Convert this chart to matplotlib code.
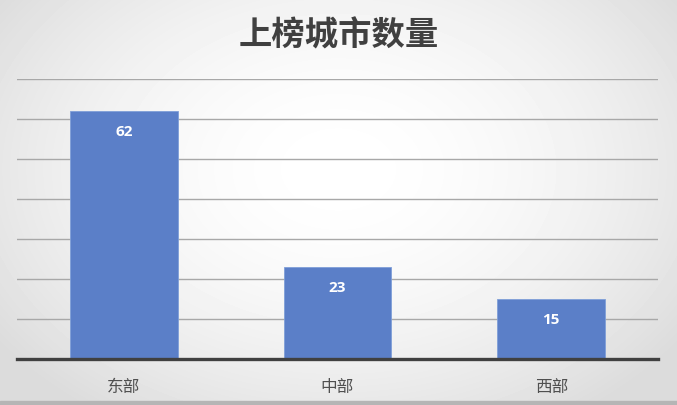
import numpy as np
import matplotlib
matplotlib.use("Agg")
import matplotlib.pyplot as plt

plt.rcParams['font.family'] = ['Noto Sans CJK SC', 'DejaVu Sans']

regions = ['东部', '中部', '西部']
counts = [62, 23, 15]
title = '上榜城市数量'

fig = plt.figure(figsize=(6.77, 4.06), dpi=100)

# radial gray-to-white background
bg = fig.add_axes([0, 0, 1, 1], zorder=0)
yy, xx = np.mgrid[0:406, 0:677]
r = np.sqrt(((xx - 338) / 420.0) ** 2 + ((yy - 170) / 300.0) ** 2)
shade = 1.0 - 0.14 * np.clip(r, 0, 1) ** 1.8
bg.imshow(shade, cmap='gray', vmin=0, vmax=1, aspect='auto', extent=[0, 1, 0, 1])
bg.axhspan(0, 0.01, color='#b5b5b5')
bg.set_axis_off()

ax = fig.add_axes([17 / 677, 46 / 406, 641 / 677, 280 / 406], zorder=1)
ax.patch.set_alpha(0)
x = np.arange(len(regions))
bars = ax.bar(x, counts, width=0.505, color='#5b7fc8', edgecolor='#7f9fd8', linewidth=0.6, zorder=3)
ax.set_xlim(-0.5, len(regions) - 0.5)
ax.set_ylim(0, 70)
ax.set_yticks(np.arange(10, 71, 10))
ax.yaxis.grid(True, color='#a8a8a8', linewidth=1.0, zorder=1)
ax.tick_params(axis='y', left=False, labelleft=False)
ax.tick_params(axis='x', bottom=False, labelsize=12, labelcolor='#505050', pad=10)
ax.set_xticks(x)
ax.set_xticklabels(regions)
for s in ['top', 'left', 'right']:
    ax.spines[s].set_visible(False)
ax.spines['bottom'].set_color('#404040')
ax.spines['bottom'].set_linewidth(2.4)
ax.spines['bottom'].set_zorder(4)

for b, v in zip(bars, counts):
    ax.text(b.get_x() + b.get_width() / 2, v - 5, str(v), ha='center', va='center',
            color='white', fontsize=11, fontweight='bold', family=['Open Sans', 'DejaVu Sans'], zorder=5)

fig.text(0.5, 1 - 36 / 406, title, ha='center', va='center', fontsize=24,
         fontweight='bold', color='#404040')

fig.savefig('out.png', dpi=100)
